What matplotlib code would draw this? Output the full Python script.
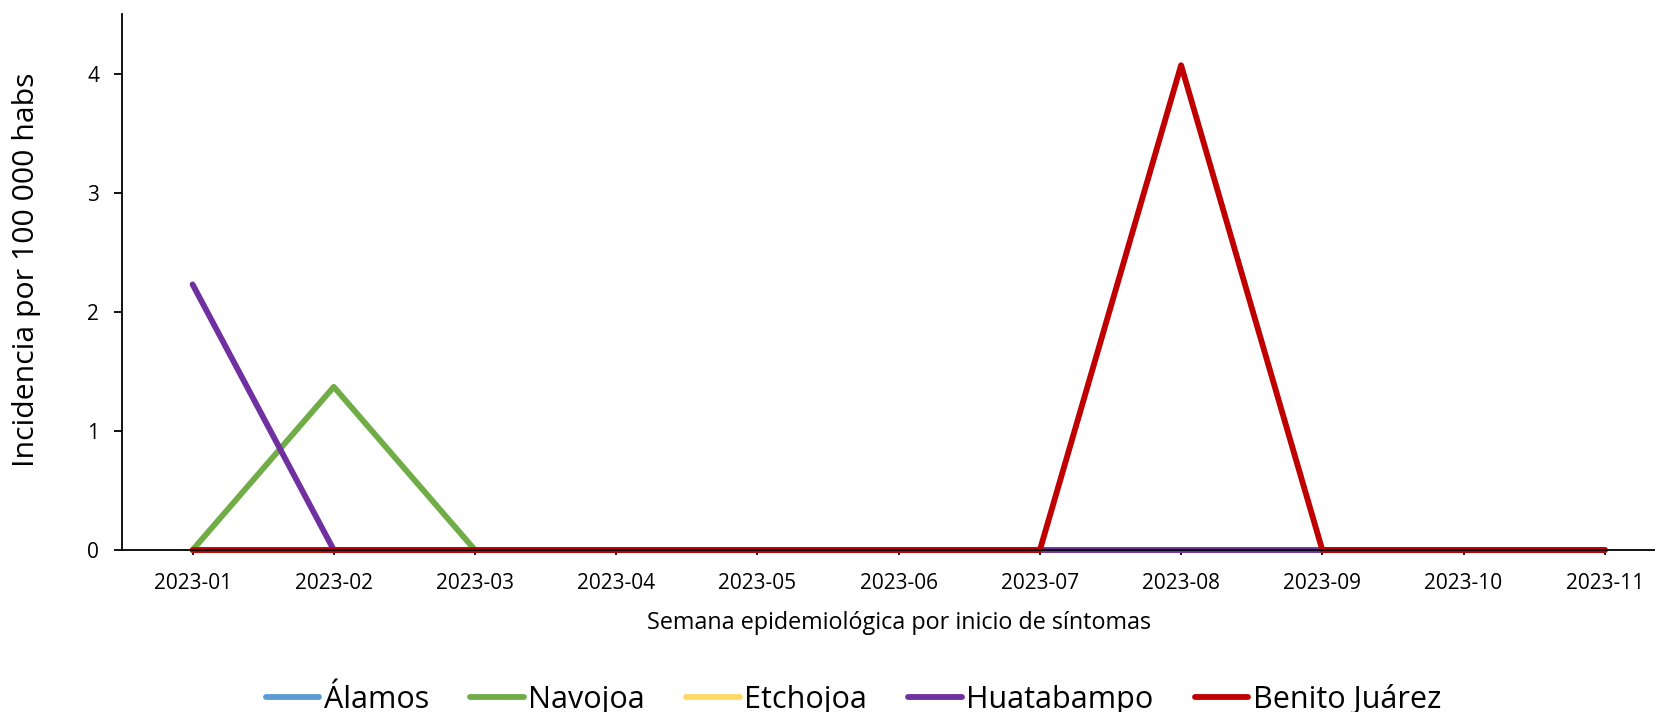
import matplotlib
matplotlib.use("Agg")
import matplotlib.pyplot as plt

weeks = ["2023-01", "2023-02", "2023-03", "2023-04", "2023-05", "2023-06",
         "2023-07", "2023-08", "2023-09", "2023-10", "2023-11"]
alamos = [0, 0, 0, 0, 0, 0, 0, 0, 0, 0, 0]
navojoa = [0, 1.37, 0, 0, 0, 0, 0, 0, 0, 0, 0]
etchojoa = [0, 0, 0, 0, 0, 0, 0, 0, 0, 0, 0]
huatabampo = [2.23, 0, 0, 0, 0, 0, 0, 0, 0, 0, 0]
benito_juarez = [0, 0, 0, 0, 0, 0, 0, 4.07, 0, 0, 0]

series_names = ["Álamos", "Navojoa", "Etchojoa", "Huatabampo", "Benito Juárez"]
series_vals = [alamos, navojoa, etchojoa, huatabampo, benito_juarez]
colors = ["#5B9BD5", "#70AD47", "#FFD966", "#7030A0", "#C00000"]

plt.rcParams['font.family'] = ['Open Sans', 'DejaVu Sans']

fig = plt.figure(figsize=(16.55, 7.12), dpi=100)
ax = fig.add_axes([0.0737, 0.2275, 0.9386, 0.7528])

x = list(range(len(weeks)))
for name, vals, c in zip(series_names, series_vals, colors):
    ax.plot(x, vals, color=c, lw=4.2, label=name, solid_capstyle='round',
            solid_joinstyle='round', clip_on=False)

ax.set_xlim(-0.5, 10.5)
ax.set_ylim(0, 4.5)
ax.set_xticks(x)
ax.set_xticklabels(weeks)
ax.set_yticks([0, 1, 2, 3, 4])
for s in ["top", "right"]:
    ax.spines[s].set_visible(False)
for s in ["left", "bottom"]:
    ax.spines[s].set_linewidth(1.3)
    ax.spines[s].set_color("black")
ax.tick_params(axis='x', length=3.6, width=1.3, pad=13, labelsize=15)
ax.tick_params(axis='y', length=5.5, width=1.3, pad=11, labelsize=15)

ax.set_xlabel("Semana epidemiológica por inicio de síntomas", fontsize=16.8)
ax.xaxis.label.set_va('center')
ax.xaxis.set_label_coords(0.5, -0.136)
ax.set_ylabel("Incidencia por 100 000 habs", fontsize=21.8)
ax.yaxis.label.set_va('center')
ax.yaxis.label.set_ha('center')
ax.yaxis.set_label_coords(-0.0615, 0.522)

fig.legend(loc='center', bbox_to_anchor=(0.5157, 0.017), ncol=5, frameon=False,
           fontsize=22, handlelength=1.75, handletextpad=0.15, columnspacing=1.35)

fig.savefig("out.png", dpi=100)
